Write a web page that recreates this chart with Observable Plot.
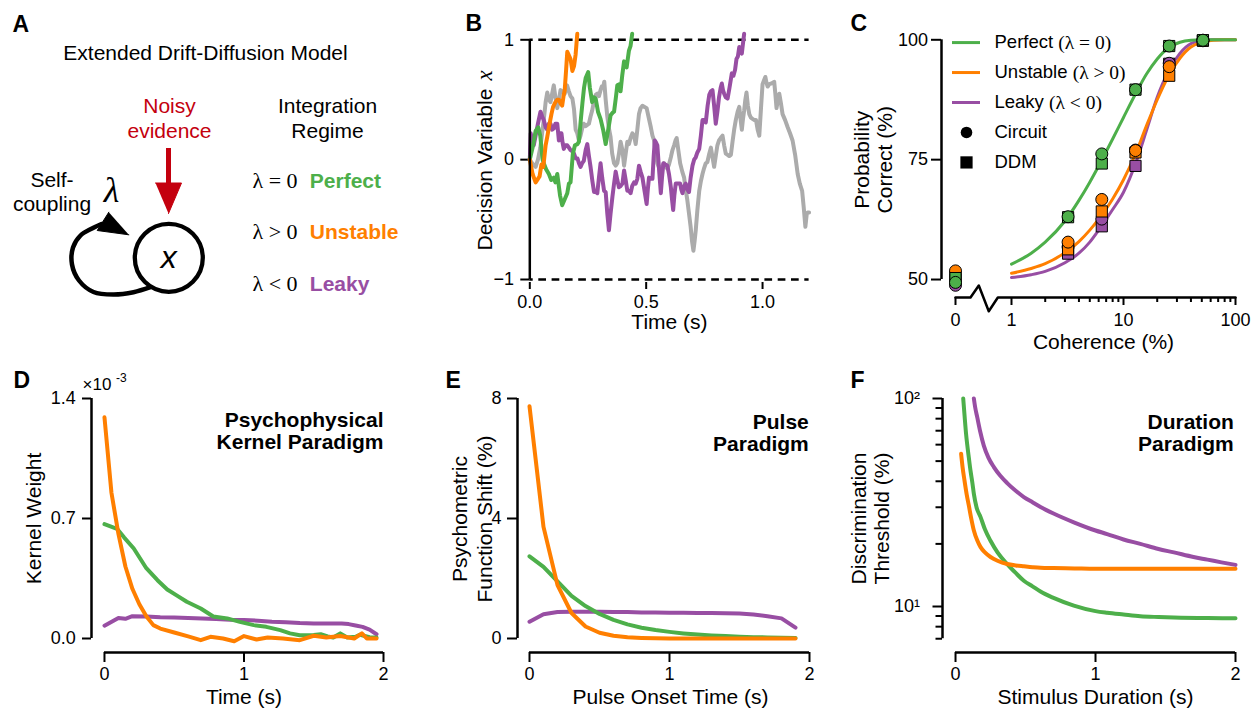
<!DOCTYPE html>
<html><head><meta charset="utf-8">
<script src="https://cdn.jsdelivr.net/npm/d3@7"></script>
<script src="https://cdn.jsdelivr.net/npm/@observablehq/plot@0.6"></script>
<style>
html,body{margin:0;padding:0;background:#fff;}
#fig{position:relative;width:1255px;height:708px;overflow:hidden;background:#fff;}
#fig > div{position:absolute;}
#fig svg{overflow:visible;display:block;max-width:none;}
</style></head><body><div id="fig"></div>
<script>
const SANS = '"Liberation Sans", Arial, Helvetica, sans-serif';
const SERIF = '"Liberation Serif", "Times New Roman", serif';
const GREEN = "#4daf4a", ORANGE = "#ff7f00", PURPLE = "#984ea3", GRAY = "#ababab", RED = "#c4000e";

// ---------- Panel A (schematic) ----------
const aTexts = [
  {x: 205, y: 59, text: "Extended Drift-Diffusion Model"},
  {x: 327, y: 112, text: "Integration"},
  {x: 327, y: 137, text: "Regime"},
  {x: 51.5, y: 186, text: "Self-"},
  {x: 51.5, y: 210, text: "coupling"}
];
const aInputLabel = [{x: 169, y: 112, text: "Noisy"}, {x: 169, y: 137, text: "evidence"}];
const regimeNames = ["Perfect", "Unstable", "Leaky"];
const regimeMath = ["λ = 0", "λ > 0", "λ < 0"];
const regimeColors = [GREEN, ORANGE, PURPLE];
const regimeRowY = [187, 238.5, 290];
const nodeCenter = [{x: 168.3, y: 257.3}];
const inputShaft = [{x: 168, y1: 148, y2: 186}];
const inputHead = [{x: 155, y: 182.5}, {x: 181, y: 182.5}, {x: 168, y: 213}];
const loopPath = [[150,286.7],[133,291.7],[113,294],[93,291.5],[78.5,280],[71.5,264],[72.5,247],[80,235],[91.5,228],[101,223.5]];
const loopHead = [[108.3,211.7],[96.7,230],[128.3,234.3]];
const couplingSymbol = [{x: 111, y: 201.7, text: "λ"}];

// ---------- Panel B (example trajectories) ----------
const walkOrange = [[0,0],[0.012,-0.12],[0.025,-0.19],[0.035,-0.16],[0.042,-0.14],[0.05,-0.04],[0.058,-0.06],[0.068,0.12],[0.075,0.19],[0.085,0.3],[0.093,0.38],[0.1,0.44],[0.11,0.48],[0.118,0.5],[0.125,0.5],[0.132,0.47],[0.139,0.45],[0.145,0.53],[0.15,0.58],[0.156,0.75],[0.161,0.9],[0.168,0.87],[0.175,0.84],[0.183,0.74],[0.19,0.78],[0.197,0.88],[0.204,1.05]];
const walkGreen = [[0,0],[0.012,0.1],[0.025,0.24],[0.036,0.27],[0.045,0.2],[0.055,0.0],[0.06,-0.03],[0.07,-0.08],[0.082,-0.12],[0.092,-0.17],[0.103,-0.15],[0.11,-0.19],[0.118,-0.12],[0.13,-0.3],[0.139,-0.38],[0.15,-0.33],[0.161,-0.28],[0.168,-0.2],[0.175,-0.19],[0.185,0.05],[0.194,0.12],[0.205,0.13],[0.211,0.15],[0.22,0.35],[0.226,0.47],[0.233,0.6],[0.24,0.68],[0.251,0.73],[0.258,0.6],[0.268,0.48],[0.276,0.52],[0.283,0.51],[0.293,0.4],[0.304,0.34],[0.315,0.25],[0.326,0.13],[0.337,0.25],[0.347,0.37],[0.355,0.39],[0.362,0.4],[0.37,0.52],[0.376,0.62],[0.385,0.63],[0.39,0.57],[0.397,0.7],[0.405,0.82],[0.41,0.8],[0.416,0.77],[0.426,0.91],[0.433,0.95],[0.44,1.05]];
const walkPurple = [[0,0],[0.004,0.22],[0.01,0.15],[0.017,0.12],[0.025,0.2],[0.035,0.3],[0.046,0.4],[0.053,0.36],[0.06,0.33],[0.068,0.27],[0.075,0.25],[0.082,0.3],[0.089,0.3],[0.096,0.25],[0.103,0.26],[0.11,0.3],[0.118,0.3],[0.125,0.16],[0.131,0.22],[0.136,0.22],[0.141,0.14],[0.146,0.09],[0.153,0.12],[0.161,0.12],[0.168,0.1],[0.175,0.08],[0.183,0.07],[0.19,0.05],[0.197,0.01],[0.205,0.01],[0.211,-0.03],[0.218,-0.06],[0.225,-0.03],[0.232,-0.01],[0.24,0.08],[0.247,0.13],[0.254,0.03],[0.261,-0.06],[0.269,-0.18],[0.276,-0.27],[0.283,-0.27],[0.29,-0.28],[0.297,-0.15],[0.304,-0.03],[0.311,-0.15],[0.319,-0.26],[0.326,-0.27],[0.333,-0.45],[0.34,-0.59],[0.347,-0.45],[0.355,-0.31],[0.362,-0.2],[0.369,-0.1],[0.376,-0.17],[0.383,-0.23],[0.39,-0.22],[0.398,-0.2],[0.405,-0.09],[0.412,-0.17],[0.419,-0.26],[0.426,-0.26],[0.433,-0.28],[0.44,-0.22],[0.448,-0.19],[0.455,-0.2],[0.462,-0.16],[0.469,-0.05],[0.476,-0.1],[0.484,-0.15],[0.493,-0.26],[0.502,-0.37],[0.507,-0.25],[0.512,-0.15],[0.52,-0.16],[0.527,-0.16],[0.532,0.02],[0.537,0.16],[0.543,0.14],[0.548,0.12],[0.556,-0.1],[0.563,-0.28],[0.568,-0.15],[0.574,-0.03],[0.582,-0.04],[0.591,-0.05],[0.598,-0.12],[0.606,-0.23],[0.611,-0.33],[0.616,-0.42],[0.621,-0.3],[0.627,-0.2],[0.636,-0.2],[0.646,-0.2],[0.651,-0.25],[0.656,-0.28],[0.663,-0.22],[0.67,-0.2],[0.677,-0.25],[0.684,-0.27],[0.691,-0.15],[0.699,-0.05],[0.706,0.0],[0.713,0.02],[0.72,0.06],[0.728,0.09],[0.735,0.2],[0.742,0.33],[0.749,0.33],[0.756,0.31],[0.764,0.45],[0.771,0.54],[0.778,0.57],[0.785,0.58],[0.792,0.45],[0.799,0.3],[0.806,0.4],[0.813,0.52],[0.82,0.6],[0.825,0.635],[0.83,0.58],[0.835,0.55],[0.842,0.52],[0.85,0.51],[0.858,0.6],[0.868,0.72],[0.875,0.7],[0.882,0.75],[0.888,0.84],[0.894,0.86],[0.9,0.94],[0.906,0.9],[0.911,0.885],[0.916,0.97],[0.921,1.05]];
const walkGray = [[0,0],[0.01,-0.03],[0.02,-0.05],[0.025,-0.06],[0.035,0.0],[0.045,0.1],[0.053,0.22],[0.06,0.33],[0.068,0.48],[0.075,0.56],[0.082,0.5],[0.089,0.48],[0.096,0.55],[0.103,0.62],[0.11,0.52],[0.118,0.43],[0.125,0.5],[0.132,0.58],[0.14,0.57],[0.15,0.55],[0.16,0.62],[0.168,0.57],[0.175,0.53],[0.183,0.51],[0.19,0.42],[0.197,0.25],[0.204,0.22],[0.211,0.16],[0.218,0.2],[0.225,0.26],[0.232,0.3],[0.24,0.28],[0.247,0.29],[0.254,0.3],[0.261,0.36],[0.268,0.41],[0.275,0.48],[0.283,0.54],[0.29,0.55],[0.297,0.53],[0.304,0.58],[0.309,0.61],[0.315,0.6],[0.32,0.65],[0.326,0.5],[0.333,0.36],[0.34,0.26],[0.347,0.19],[0.354,0.05],[0.362,-0.03],[0.369,-0.05],[0.376,-0.03],[0.383,0.05],[0.39,0.15],[0.398,0.08],[0.405,-0.05],[0.412,0.05],[0.419,0.15],[0.426,0.13],[0.433,0.18],[0.441,0.22],[0.448,0.2],[0.455,0.13],[0.462,0.25],[0.469,0.38],[0.476,0.43],[0.484,0.45],[0.493,0.44],[0.502,0.43],[0.511,0.35],[0.52,0.27],[0.527,0.2],[0.534,0.16],[0.541,0.05],[0.548,-0.03],[0.556,-0.07],[0.563,-0.09],[0.57,-0.05],[0.577,-0.03],[0.584,-0.06],[0.591,-0.075],[0.598,-0.04],[0.606,0.02],[0.613,0.08],[0.62,0.12],[0.626,0.16],[0.631,0.18],[0.638,0.08],[0.646,-0.03],[0.655,-0.1],[0.663,-0.15],[0.67,-0.25],[0.677,-0.34],[0.684,-0.45],[0.691,-0.56],[0.697,-0.68],[0.703,-0.76],[0.708,-0.68],[0.713,-0.59],[0.72,-0.42],[0.728,-0.26],[0.735,-0.18],[0.742,-0.12],[0.749,-0.07],[0.756,-0.03],[0.763,-0.02],[0.771,0.05],[0.778,0.1],[0.785,0.02],[0.792,-0.06],[0.799,0.03],[0.806,0.12],[0.813,0.16],[0.82,0.18],[0.828,0.2],[0.835,0.12],[0.842,0.05],[0.85,0.04],[0.857,0.03],[0.864,0.04],[0.871,0.15],[0.878,0.25],[0.885,0.33],[0.893,0.4],[0.9,0.44],[0.906,0.33],[0.911,0.25],[0.916,0.34],[0.921,0.41],[0.926,0.5],[0.931,0.56],[0.937,0.45],[0.943,0.38],[0.95,0.35],[0.957,0.34],[0.965,0.33],[0.972,0.33],[0.979,0.25],[0.986,0.2],[0.993,0.42],[1.0,0.63],[1.006,0.66],[1.012,0.69],[1.017,0.64],[1.022,0.61],[1.029,0.63],[1.036,0.635],[1.043,0.64],[1.05,0.65],[1.055,0.55],[1.06,0.43],[1.066,0.5],[1.072,0.55],[1.079,0.47],[1.086,0.38],[1.097,0.33],[1.108,0.27],[1.118,0.22],[1.129,0.16],[1.14,0.04],[1.151,-0.12],[1.16,-0.2],[1.17,-0.26],[1.177,-0.4],[1.184,-0.56],[1.19,-0.45],[1.194,-0.44],[1.2,-0.44]];
const boundTicks = [-1, 0, 1];
const timeTicksB = [0, 0.5, 1.0];

// ---------- Panel C (psychometric) ----------
const cohPoints = [0, 3.2, 6.4, 12.8, 25.6, 51.2];
const perfectCircuit = [49.4, 63.1, 76.2, 89.6, 98.7, 99.9];
const perfectDDM = [50.3, 63.0, 74.2, 89.6, 98.7, 99.9];
const unstableCircuit = [51.8, 57.8, 66.7, 76.9, 94.4, 99.8];
const unstableDDM = [50.5, 56.3, 64.2, 76.5, 92.5, 99.8];
const leakyCircuit = [48.8, 56.8, 62.6, 77.0, 95.1, 99.9];
const leakyDDM = [50.0, 55.4, 61.1, 73.7, 95.0, 99.9];
const cohCurve = [1, 1.5, 2, 3, 4, 5, 6, 8, 10, 13, 16, 20, 25, 32, 40, 50, 63, 80, 100];
const perfectCurve = [53.2, 55.5, 57.8, 62.2, 66.5, 70.3, 73.7, 79.3, 83.8, 89, 92.8, 96, 98.3, 99.5, 99.9, 100, 100, 100, 100];
const unstableCurve = [51.3, 52.3, 53.3, 55.6, 57.9, 60.3, 62.6, 66.8, 70.8, 76.6, 82, 87.5, 92.3, 96.2, 98.5, 99.5, 99.9, 100, 100];
const leakyCurve = [50.4, 51, 51.7, 53.5, 55.5, 57.8, 60.3, 64.6, 68.2, 74.6, 81, 88, 93.3, 97.2, 99.2, 99.8, 100, 100, 100];
const cohMajorTicks = [0, 1, 10, 100];
const cohMinorTicks = [2,3,4,5,6,7,8,9,20,30,40,50,60,70,80,90];
const pcTicks = [50, 75, 100];
const legendRows = [
  {label: "Perfect", math: "(λ = 0)", hue: GREEN, kind: "line"},
  {label: "Unstable", math: "(λ > 0)", hue: ORANGE, kind: "line"},
  {label: "Leaky", math: "(λ < 0)", hue: PURPLE, kind: "line"},
  {label: "Circuit", kind: "circle"},
  {label: "DDM", kind: "square"}
];

// ---------- Panel D (kernel) ----------
const kernelTimeOrange = [0,0.05,0.1,0.15,0.2,0.25,0.3,0.35,0.4,0.5,0.6,0.69,0.76,0.85,0.93,1.0,1.09,1.17,1.28,1.4,1.5,1.59,1.69,1.79,1.845,1.88,1.95];
const kernelOrange = [1.29,0.85,0.61,0.42,0.29,0.2,0.13,0.078,0.058,0.035,0.012,-0.01,0.01,0.0,-0.016,0.014,-0.006,0.006,0.0,-0.01,0.016,0.006,0.014,0.0,0.03,0.0,0.0];
const kernelTimeGreen = [0,0.09,0.14,0.21,0.3,0.38,0.45,0.52,0.59,0.69,0.78,0.88,0.97,1.07,1.16,1.26,1.33,1.4,1.5,1.55,1.6,1.64,1.69,1.74,1.8,1.83,1.9,1.95];
const kernelGreen = [0.667,0.64,0.59,0.525,0.41,0.34,0.286,0.25,0.214,0.175,0.128,0.117,0.097,0.078,0.068,0.049,0.03,0.019,0.02,0.025,0.012,0.006,0.03,0.006,0.01,0.022,0.008,0.006];
const kernelTimePurple = [0,0.1,0.15,0.2,0.3,0.4,0.5,0.6,0.7,0.8,0.9,1.0,1.1,1.2,1.3,1.4,1.5,1.6,1.7,1.75,1.8,1.85,1.9,1.95];
const kernelPurple = [0.075,0.12,0.115,0.13,0.128,0.124,0.122,0.12,0.117,0.114,0.11,0.108,0.104,0.098,0.095,0.09,0.088,0.088,0.087,0.084,0.076,0.068,0.052,0.025];
const kernelTicks = [0, 0.7, 1.4];
const timeTicks = [0, 1, 2];

// ---------- Panel E (pulse) ----------
const pulseTime = [0,0.1,0.2,0.3,0.4,0.5,0.6,0.7,0.8,0.9,1.0,1.1,1.2,1.3,1.4,1.5,1.6,1.7,1.8,1.9];
const pulseOrange = [7.74,3.72,1.78,0.85,0.4,0.19,0.09,0.04,0.02,0.01,0,0,0,0,0,0,0,0,0,0];
const pulseGreen = [2.74,2.39,1.9,1.42,1.08,0.82,0.62,0.47,0.36,0.28,0.22,0.17,0.13,0.1,0.08,0.06,0.045,0.035,0.028,0.02];
const pulsePurple = [0.56,0.81,0.88,0.89,0.89,0.89,0.88,0.88,0.87,0.87,0.86,0.86,0.85,0.85,0.84,0.83,0.8,0.74,0.67,0.36];
const shiftTicks = [0, 4, 8];

// ---------- Panel F (duration) ----------
const durTimeGreen = [0.055,0.065,0.075,0.083,0.095,0.107,0.12,0.131,0.15,0.179,0.21,0.25,0.3,0.369,0.43,0.488,0.55,0.607,0.7,0.845,1.0,1.083,1.2,1.32,1.45,1.56,1.8,2.0];
const durGreen = [100,82,68,60.5,52,45,39.5,34.8,30,26.9,23.5,20.7,18.2,16,14.5,13.3,12.5,11.8,11,10.1,9.5,9.33,9.15,8.98,8.9,8.85,8.8,8.79];
const durTimeOrange = [0.04,0.05,0.064,0.08,0.095,0.11,0.131,0.155,0.179,0.21,0.25,0.3,0.369,0.43,0.488,0.55,0.607,0.7,0.85,1.0,1.5,2.0];
const durOrange = [54.2,47,40.4,34.5,30.6,27,23.2,20.8,19.3,18.2,17.3,16.6,16.0,15.75,15.6,15.45,15.35,15.3,15.25,15.2,15.2,15.2];
const durTimePurple = [0.131,0.14,0.155,0.175,0.202,0.235,0.274,0.32,0.369,0.43,0.488,0.55,0.607,0.7,0.845,1.0,1.083,1.2,1.32,1.45,1.56,1.7,1.8,1.9,2.0];
const durPurple = [100,91,81.3,70,59.4,52,46.8,42.5,39.2,36,33.6,31.7,30.1,28,25.4,23.2,22.3,21,20,18.9,18.2,17.3,16.8,16.3,15.85];
const thresholdMajorTicks = [10, 100];
const thresholdMinorTicks = [7,8,9,20,30,40,50,60,70,80,90];

// ---------- helpers ----------
const fig = document.getElementById("fig");
function place(el, left, top, w, h) {
  const d = document.createElement("div");
  d.style.left = left + "px"; d.style.top = top + "px";
  d.style.width = w + "px"; d.style.height = h + "px";
  d.appendChild(el); fig.appendChild(d);
}
const baseStyle = {fontFamily: SANS, fontSize: "18px", color: "black", background: "none", overflow: "visible"};
const label = (str, o) => Plot.text([str], {text: d => d, fontSize: 21, ...o});
const pairs = (ts, vs) => ts.map((t, i) => ({t, v: vs[i]}));
const intFmt = d => String(d);
const AX = 2.5, TK = 2;

// ---------- A ----------
const regimeRows = regimeNames.map((name, i) => ({name, math: regimeMath[i], hue: regimeColors[i], y: regimeRowY[i]}));
place(Plot.plot({
  width: 420, height: 330, margin: 0,
  x: {domain: [0, 420], range: [0, 420], axis: null},
  y: {domain: [0, 330], range: [0, 330], axis: null},
  color: {type: "identity"},
  style: baseStyle,
  marks: [
    Plot.text(["A"], {text: d => d, x: () => 12, y: () => 31, textAnchor: "start", lineAnchor: "bottom", fontWeight: "bold", fontSize: 23}),
    Plot.text(aTexts, {x: "x", y: "y", text: "text", lineAnchor: "bottom", fontSize: 21}),
    Plot.text(aInputLabel, {x: "x", y: "y", text: "text", lineAnchor: "bottom", fontSize: 21, fill: RED}),
    Plot.text(regimeRows, {x: () => 252, y: "y", text: "math", textAnchor: "start", lineAnchor: "bottom", fontSize: 22, fontFamily: SERIF}),
    Plot.text(regimeRows, {x: () => 309.3, y: "y", text: "name", fill: "hue", textAnchor: "start", lineAnchor: "bottom", fontSize: 21, fontWeight: "bold"}),
    Plot.ruleX(inputShaft, {x: "x", y1: "y1", y2: "y2", stroke: RED, strokeWidth: 5}),
    Plot.line(inputHead, {x: "x", y: "y", fill: RED, stroke: RED, strokeWidth: 1}),
    Plot.line(loopPath, {x: d => d[0], y: d => d[1], curve: "catmull-rom", stroke: "black", strokeWidth: 4.5}),
    Plot.line(loopHead, {x: d => d[0], y: d => d[1], fill: "black", stroke: "black", strokeWidth: 1}),
    Plot.dot(nodeCenter, {x: "x", y: "y", r: 34, stroke: "black", strokeWidth: 4.3, fill: "white"}),
    Plot.text(nodeCenter, {x: "x", y: "y", text: () => "x", fontStyle: "italic", fontSize: 32}),
    Plot.text(couplingSymbol, {x: "x", y: "y", text: "text", lineAnchor: "bottom", fontFamily: SERIF, fontStyle: "italic", fontSize: 36})
  ]
}), 0, 0, 420, 330);

// ---------- B ----------
place(Plot.plot({
  width: 420, height: 340, marginLeft: 109.3, marginRight: 31.4, marginTop: 39.3, marginBottom: 58,
  x: {domain: [0, 1.2]}, y: {domain: [-1.025, 1]},
  style: baseStyle,
  marks: [
    Plot.ruleY([-1, 1], {x1: 0, x2: 1.2, strokeDasharray: "7.7,5.6", strokeDashoffset: 4.3, strokeWidth: AX}),
    Plot.axisY(boundTicks, {tickSize: 9, tickPadding: 6.7, strokeWidth: TK, label: null, tickFormat: d => d < 0 ? "\u2212" + Math.abs(d) : String(d)}),
    Plot.axisX(timeTicksB, {tickSize: 7, tickPadding: 5.3, strokeWidth: TK, label: null, tickFormat: d3.format(".1f")}),
    Plot.line(walkGray, {x: d => d[0], y: d => d[1], stroke: GRAY, strokeWidth: 4}),
    Plot.line(walkPurple, {x: d => d[0], y: d => d[1], stroke: PURPLE, strokeWidth: 4}),
    Plot.line(walkGreen, {x: d => d[0], y: d => d[1], stroke: GREEN, strokeWidth: 4}),
    Plot.line(walkOrange, {x: d => d[0], y: d => d[1], stroke: ORANGE, strokeWidth: 4}),
    Plot.ruleX([0], {y1: d3.min(boundTicks), y2: d3.max(boundTicks), strokeWidth: AX}),
    label("B", {frameAnchor: "top-left", dx: -64.3, dy: -8.6, lineAnchor: "bottom", textAnchor: "start", fontWeight: "bold", fontSize: 23}),
    label("Time (s)", {frameAnchor: "bottom", dy: 46, lineAnchor: "bottom"}),
    label("Decision Variable", {frameAnchor: "bottom-left", dx: -37.6, dy: -32, rotate: -90, textAnchor: "start", lineAnchor: "bottom"}),
    label("x", {frameAnchor: "bottom-left", dx: -37.6, dy: -202, rotate: -90, textAnchor: "start", lineAnchor: "bottom", fontFamily: SERIF, fontStyle: "italic", fontSize: 23})
  ]
}), 420, 0, 420, 340);

// ---------- C ----------
const ZERO_POS = -0.5; // position of the 0% coherence column on the log axis (in decades)
const cpos = c => c === 0 ? ZERO_POS : Math.log10(c);
const cMajorLabel = new Map(cohMajorTicks.map(c => [cpos(c), String(c)]));
const cBase = 46.25;
const cAxisPath = [[ZERO_POS, 0], [-0.366, 0], [-0.292, 2.5], [-0.203, -2.86], [-0.122, 0], [cpos(100), 0]];
const models = [
  {hue: PURPLE, circuit: leakyCircuit, ddm: leakyDDM, curve: leakyCurve},
  {hue: ORANGE, circuit: unstableCircuit, ddm: unstableDDM, curve: unstableCurve},
  {hue: GREEN, circuit: perfectCircuit, ddm: perfectDDM, curve: perfectCurve}
];
place(Plot.plot({
  width: 415, height: 360, marginLeft: 101, marginRight: 20, marginTop: 39.3, marginBottom: 63,
  x: {domain: [-0.625, 2]}, y: {domain: [cBase, 100]},
  style: baseStyle,
  marks: [
    Plot.line(cAxisPath, {x: d => d[0], y: d => cBase + d[1], stroke: "black", strokeWidth: AX, curve: "linear"}),
    Plot.ruleX([-0.625], {y1: d3.min(pcTicks), y2: d3.max(pcTicks), strokeWidth: AX}),
    Plot.axisY(pcTicks, {tickSize: 10, tickPadding: 3.5, strokeWidth: TK, label: null}),
    Plot.axisX(cohMajorTicks.map(cpos), {tickSize: 8, tickPadding: 7.5, strokeWidth: TK, label: null, tickFormat: d => cMajorLabel.get(d)}),
    Plot.axisX(cohMinorTicks.map(cpos), {tickSize: 5, strokeWidth: TK, label: null, tickFormat: () => ""}),
    ...models.map(m => Plot.line(pairs(cohCurve, m.curve), {x: d => cpos(d.t), y: "v", stroke: m.hue, strokeWidth: 3, curve: "monotone-x"})),
    ...models.flatMap(m => [
      Plot.dot(pairs(cohPoints, m.ddm), {x: d => cpos(d.t), y: "v", symbol: "square", r: 6.3, fill: m.hue, stroke: "black", strokeWidth: 1}),
      Plot.dot(pairs(cohPoints, m.circuit), {x: d => cpos(d.t), y: "v", r: 6, fill: m.hue, stroke: "black", strokeWidth: 1})
    ]),
    label("C", {frameAnchor: "top-left", dx: -91, dy: -8.6, lineAnchor: "bottom", textAnchor: "start", fontWeight: "bold", fontSize: 23}),
    label("Coherence (%)", {frameAnchor: "bottom", dx: 15, dy: 51.3, lineAnchor: "bottom"}),
    label("Probability\nCorrect (%)", {frameAnchor: "left", dx: -49.3, dy: -8.9, rotate: -90, textAnchor: "middle", lineAnchor: "bottom", lineHeight: 1.12})
  ]
}), 840, 0, 415, 360);

// legend for C
const measure = document.createElement("canvas").getContext("2d");
measure.font = `18.5px ${SANS}`;
const legendData = legendRows.map((r, i) => ({...r, row: i, mathX: 54 + measure.measureText(r.label + " ").width}));
place(Plot.plot({
  width: 230, height: 160, margin: 0,
  x: {domain: [0, 230], range: [0, 230], axis: null},
  y: {domain: [-0.67, 4.67], range: [0, 160], axis: null},
  color: {type: "identity"},
  style: baseStyle,
  marks: [
    Plot.ruleY(legendData.filter(d => d.kind === "line"), {y: "row", x1: () => 12, x2: () => 40, stroke: "hue", strokeWidth: 3}),
    Plot.dot(legendData.filter(d => d.kind === "circle"), {y: "row", x: () => 26, r: 5.8, fill: "black"}),
    Plot.dot(legendData.filter(d => d.kind === "square"), {y: "row", x: () => 26, r: 6.9, symbol: "square", fill: "black"}),
    Plot.text(legendData, {y: "row", x: () => 54, text: "label", textAnchor: "start", fontSize: 18.5}),
    Plot.text(legendData.filter(d => d.math), {y: "row", x: "mathX", text: "math", textAnchor: "start", fontSize: 19.5, fontFamily: SERIF})
  ]
}), 940, 22, 230, 160);

// ---------- D ----------
place(Plot.plot({
  width: 420, height: 348, marginLeft: 91, marginRight: 37, marginTop: 38, marginBottom: 56,
  x: {domain: [-0.093, 2]}, y: {domain: [-0.0817, 1.4]},
  style: baseStyle,
  marks: [
    Plot.ruleX([-0.093], {y1: d3.min(kernelTicks), y2: d3.max(kernelTicks), strokeWidth: AX}),
    Plot.ruleY([-0.0817], {x1: d3.min(timeTicks), x2: d3.max(timeTicks), strokeWidth: AX}),
    Plot.axisY(kernelTicks, {tickSize: 9, tickPadding: 6.7, strokeWidth: TK, label: null, tickFormat: d3.format(".1f")}),
    Plot.axisX(timeTicks, {tickSize: 10, tickPadding: 4.7, strokeWidth: TK, label: null, tickFormat: intFmt}),
    Plot.line(pairs(kernelTimePurple, kernelPurple), {x: "t", y: "v", stroke: PURPLE, strokeWidth: 4}),
    Plot.line(pairs(kernelTimeGreen, kernelGreen), {x: "t", y: "v", stroke: GREEN, strokeWidth: 4}),
    Plot.line(pairs(kernelTimeOrange, kernelOrange), {x: "t", y: "v", stroke: ORANGE, strokeWidth: 4}),
    label("D", {frameAnchor: "top-left", dx: -78, dy: -11, lineAnchor: "bottom", textAnchor: "start", fontWeight: "bold", fontSize: 23}),
    label("\u00d710", {frameAnchor: "top-left", dx: -9, dy: -8.7, lineAnchor: "bottom", textAnchor: "start", fontSize: 17}),
    label("-3", {frameAnchor: "top-left", dx: 24.5, dy: -17, lineAnchor: "bottom", textAnchor: "start", fontSize: 12}),
    label("Time (s)", {frameAnchor: "bottom", dx: 6.5, dy: 51.3, lineAnchor: "bottom"}),
    label("Kernel Weight", {frameAnchor: "left", dx: -51, dy: -7, rotate: -90, textAnchor: "middle", lineAnchor: "bottom"}),
    label("Psychophysical\nKernel Paradigm", {frameAnchor: "top-right", dy: 12, textAnchor: "end", lineAnchor: "top", fontWeight: "bold", lineHeight: 1.08})
  ]
}), 0, 360, 420, 348);

// ---------- E ----------
place(Plot.plot({
  width: 420, height: 348, marginLeft: 97, marginRight: 31, marginTop: 38, marginBottom: 56,
  x: {domain: [-0.0857, 2]}, y: {domain: [-0.467, 8]},
  style: baseStyle,
  marks: [
    Plot.ruleX([-0.0857], {y1: d3.min(shiftTicks), y2: d3.max(shiftTicks), strokeWidth: AX}),
    Plot.ruleY([-0.467], {x1: d3.min(timeTicks), x2: d3.max(timeTicks), strokeWidth: AX}),
    Plot.axisY(shiftTicks, {tickSize: 10, tickPadding: 6, strokeWidth: TK, label: null, tickFormat: intFmt}),
    Plot.axisX(timeTicks, {tickSize: 10, tickPadding: 4.7, strokeWidth: TK, label: null, tickFormat: intFmt}),
    Plot.line(pairs(pulseTime, pulsePurple), {x: "t", y: "v", stroke: PURPLE, strokeWidth: 4}),
    Plot.line(pairs(pulseTime, pulseGreen), {x: "t", y: "v", stroke: GREEN, strokeWidth: 4}),
    Plot.line(pairs(pulseTime, pulseOrange), {x: "t", y: "v", stroke: ORANGE, strokeWidth: 4}),
    label("E", {frameAnchor: "top-left", dx: -72, dy: -11, lineAnchor: "bottom", textAnchor: "start", fontWeight: "bold", fontSize: 23}),
    label("Pulse Onset Time (s)", {frameAnchor: "bottom", dx: 7, dy: 51.3, lineAnchor: "bottom"}),
    label("Psychometric\nFunction Shift (%)", {frameAnchor: "left", dx: -25.3, dy: -6.5, rotate: -90, textAnchor: "middle", lineAnchor: "bottom", lineHeight: 1.19}),
    label("Pulse\nParadigm", {frameAnchor: "top-right", dx: -0.7, dy: 14.7, textAnchor: "end", lineAnchor: "top", fontWeight: "bold", lineHeight: 1.06})
  ]
}), 420, 360, 420, 348);

// ---------- F ----------
const sup = {1: "\u00b9", 2: "\u00b2", 3: "\u00b3"};
place(Plot.plot({
  width: 415, height: 348, marginLeft: 102, marginRight: 20, marginTop: 38, marginBottom: 56,
  x: {domain: [-0.093, 2]}, y: {type: "log", domain: [6.01, 100]},
  style: baseStyle,
  marks: [
    Plot.ruleX([-0.093], {y1: d3.min(thresholdMinorTicks), y2: d3.max(thresholdMajorTicks), strokeWidth: AX}),
    Plot.ruleY([6.01], {x1: d3.min(timeTicks), x2: d3.max(timeTicks), strokeWidth: AX}),
    Plot.axisY(thresholdMajorTicks, {tickSize: 9.5, tickPadding: 13, strokeWidth: TK, label: null, tickFormat: d => "10" + sup[Math.round(Math.log10(d))]}),
    Plot.axisY(thresholdMinorTicks, {tickSize: 6.5, strokeWidth: TK, label: null, tickFormat: () => ""}),
    Plot.axisX(timeTicks, {tickSize: 10, tickPadding: 4.7, strokeWidth: TK, label: null, tickFormat: intFmt}),
    Plot.line(pairs(durTimeGreen, durGreen), {x: "t", y: "v", stroke: GREEN, strokeWidth: 4, curve: "monotone-x"}),
    Plot.line(pairs(durTimeOrange, durOrange), {x: "t", y: "v", stroke: ORANGE, strokeWidth: 4, curve: "monotone-x"}),
    Plot.line(pairs(durTimePurple, durPurple), {x: "t", y: "v", stroke: PURPLE, strokeWidth: 4, curve: "monotone-x"}),
    label("F", {frameAnchor: "top-left", dx: -92, dy: -11, lineAnchor: "bottom", textAnchor: "start", fontWeight: "bold", fontSize: 23}),
    label("Stimulus Duration (s)", {frameAnchor: "bottom", dx: 6.5, dy: 51.3, lineAnchor: "bottom"}),
    label("Discrimination\nThreshold (%)", {frameAnchor: "left", dx: -53.7, dy: -7, rotate: -90, textAnchor: "middle", lineAnchor: "bottom", lineHeight: 1.11}),
    label("Duration\nParadigm", {frameAnchor: "top-right", dx: -1.7, dy: 14.7, textAnchor: "end", lineAnchor: "top", fontWeight: "bold", lineHeight: 1.06})
  ]
}), 840, 360, 415, 348);
</script></body></html>
